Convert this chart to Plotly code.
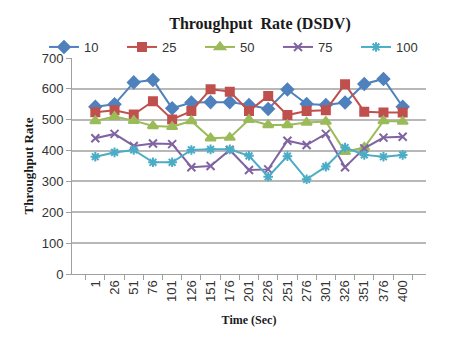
import plotly.graph_objects as go

times = ["1", "26", "51", "76", "101", "126", "151", "176", "201", "226",
         "251", "276", "301", "326", "351", "376", "400"]
s10 = [542, 550, 621, 629, 537, 556, 557, 557, 548, 535, 598, 551, 548, 556, 616, 632, 542]
s25 = [524, 531, 517, 560, 501, 528, 599, 591, 528, 577, 515, 528, 531, 615, 526, 523, 523]
s50 = [496, 510, 497, 480, 477, 496, 440, 442, 500, 483, 483, 491, 494, 396, 410, 496, 494]
s75 = [440, 454, 415, 423, 421, 346, 350, 402, 337, 339, 432, 418, 454, 346, 407, 442, 445]
s100 = [380, 394, 402, 362, 362, 402, 404, 404, 383, 315, 382, 307, 348, 410, 386, 380, 386]

series = [
    ("10", s10, "#4F81BD", "diamond", 9),
    ("25", s25, "#C0504D", "square", 8),
    ("50", s50, "#9BBB59", "triangle-up", 9),
    ("75", s75, "#8064A2", "x-thin-open", 8),
    ("100", s100, "#4BACC6", "asterisk-open", 8),
]

fig = go.Figure()
for name, vals, col, sym, sz in series:
    fig.add_trace(go.Scatter(
        x=times, y=vals, name=name, mode="lines+markers",
        line=dict(color=col, width=2),
        marker=dict(symbol=sym, size=sz, color=col,
                    line=dict(color=col, width=2)),
    ))

W, H = 468, 346
L, R, T, B = 72, 42, 58, 72
pw, ph = W - L - R, H - T - B

def px(x):
    return (x - L) / pw

def py(y):
    return (H - B - y) / ph

fig.update_layout(
    width=W, height=H,
    margin=dict(l=L, r=R, t=T, b=B),
    paper_bgcolor="white", plot_bgcolor="white",
    title=dict(text="<b>Throughput  Rate (DSDV)</b>", x=px(260), xref="paper",
               xanchor="center", y=1 - 23 / H, yanchor="middle",
               font=dict(family="Liberation Serif", size=16, color="#1a1a1a")),
    legend=dict(orientation="h", x=px(44), xanchor="left", y=py(47), yanchor="middle",
                font=dict(family="Liberation Sans", size=13, color="#333333"),
                entrywidth=33, entrywidthmode="pixels", bgcolor="rgba(0,0,0,0)",
                itemwidth=30, tracegroupgap=0),
    showlegend=True,
    xaxis=dict(type="category", tickangle=-90, showgrid=False,
               showline=True, linecolor="#A0A0A0", linewidth=1,
               ticks="outside", ticklen=5, tickcolor="#A0A0A0",
               tickson="boundaries",
               tickfont=dict(family="Liberation Sans", size=13, color="#333333"),
               title=dict(text="<b>Time (Sec)</b>", standoff=14,
                          font=dict(family="Liberation Serif", size=12, color="#1a1a1a"))),
    yaxis=dict(range=[0, 700], dtick=100, showgrid=True, gridcolor="#B8B8B8", gridwidth=1.5,
               showline=True, linecolor="#A0A0A0", linewidth=1,
               ticks="outside", ticklen=5, tickcolor="#A0A0A0", zeroline=False,
               tickfont=dict(family="Liberation Sans", size=13, color="#333333"),
               title=dict(text="<b>Throughput Rate</b>", standoff=5,
                          font=dict(family="Liberation Serif", size=13, color="#1a1a1a"))),
)

post = "document.body.style.margin='0';document.body.style.overflow='hidden';"

fig.write_html("out.html", config={"displayModeBar": False}, post_script=post)
